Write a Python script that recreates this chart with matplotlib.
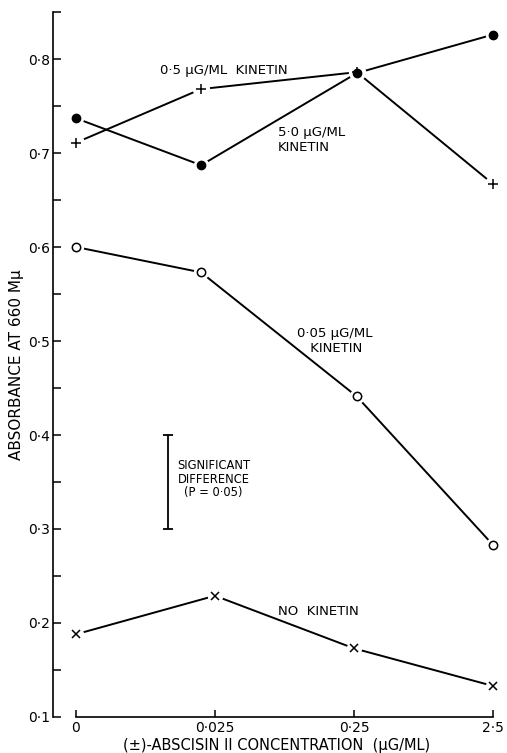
import matplotlib
matplotlib.use("Agg")
import matplotlib.pyplot as plt
from matplotlib.ticker import FixedLocator

# Data
conc_labels = ["0", "0·025", "0·25", "2·5"]
# plotted positions on the categorical axis (kinetin points at 0.025 sit slightly left of tick)
x_kin = [0, 0.9, 2.02, 3.0]
x_none = [0, 1, 2, 3]
kin_5_0 = [0.737, 0.687, 0.785, 0.826]
kin_0_5 = [0.711, 0.768, 0.786, 0.667]
kin_0_05 = [0.600, 0.573, 0.441, 0.283]
no_kin = [0.188, 0.229, 0.173, 0.133]
sig_bar = (0.30, 0.40)
y_major = [0.1, 0.2, 0.3, 0.4, 0.5, 0.6, 0.7, 0.8]
y_major_labels = ["0·1", "0·2", "0·3", "0·4", "0·5", "0·6", "0·7", "0·8"]
y_minor = [0.15, 0.25, 0.35, 0.45, 0.55, 0.65, 0.75, 0.85]

plt.rcParams['font.family'] = ['DejaVu Sans']
fig = plt.figure(figsize=(5.07, 7.53), dpi=100)
W, H = 507, 753
ax = fig.add_axes([53 / W, (H - 717) / H, (500 - 53) / W, (717 - 12) / H])

lw = 1.4

def series(xs, vals, marker, ms, fill, mew):
    ax.plot(xs, vals, '-', color='black', lw=lw, zorder=1, solid_capstyle='butt')
    ax.plot(xs, vals, linestyle='none', marker='o', ms=ms + 4, mfc='white', mec='white', zorder=2)
    ax.plot(xs, vals, linestyle='none', marker=marker, ms=ms, mfc=fill, mec='black', mew=mew, zorder=3)

series(x_kin, kin_0_5, '+', 7.5, 'black', 1.1)
series(x_kin, kin_5_0, 'o', 6, 'black', 1.0)
series(x_kin, kin_0_05, 'o', 6, 'white', 1.1)
series(x_none, no_kin, 'x', 6, 'black', 1.1)

# significant difference bar
ax.errorbar([0.66], [sum(sig_bar) / 2], yerr=[[(sig_bar[1] - sig_bar[0]) / 2]],
            fmt='none', ecolor='black', elinewidth=1.3, capsize=3.6, capthick=1.3)

fs = 9.5
ax.text(1.065, 0.788, "0·5 μG/ML  KINETIN", fontsize=fs, ha='center', va='center')
ax.text(1.45, 0.714, "5·0 μG/ML\nKINETIN", fontsize=fs, ha='left', va='center', linespacing=1.25)
ax.text(1.86, 0.500, "0·05 μG/ML\n KINETIN", fontsize=fs, ha='center', va='center', linespacing=1.25)
ax.text(1.453, 0.212, "NO  KINETIN", fontsize=fs, ha='left', va='center')
ax.text(0.727, 0.353, "SIGNIFICANT\nDIFFERENCE\n(P = 0·05)", fontsize=8.3, ha='left', va='center',
        linespacing=1.05, multialignment='center')

ax.set_xlim(-0.165, 3.05)
ax.set_ylim(0.1, 0.85)
ax.spines['top'].set_visible(False)
ax.spines['right'].set_visible(False)
ax.spines['left'].set_bounds(0.1, 0.85)
ax.spines['bottom'].set_bounds(0, 3)
ax.spines['left'].set_linewidth(1.2)
ax.spines['bottom'].set_linewidth(1.2)

ax.set_xticks(range(len(conc_labels)))
ax.set_xticklabels(conc_labels, fontsize=10)
ax.yaxis.set_major_locator(FixedLocator(y_major))
ax.set_yticklabels(y_major_labels, fontsize=10)
ax.yaxis.set_minor_locator(FixedLocator(y_minor))
ax.tick_params(axis='y', which='major', direction='in', length=6, width=1.1, pad=2)
ax.tick_params(axis='x', which='major', direction='in', length=5, width=1.1, pad=3)
ax.tick_params(axis='y', which='minor', direction='in', length=6, width=1.1)

ax.set_ylabel("ABSORBANCE AT 660 Mμ", fontsize=11, labelpad=3)
ax.set_xlabel("(±)-ABSCISIN II CONCENTRATION  (μG/ML)", fontsize=10.5, labelpad=2)

fig.savefig("out.png", dpi=100)
